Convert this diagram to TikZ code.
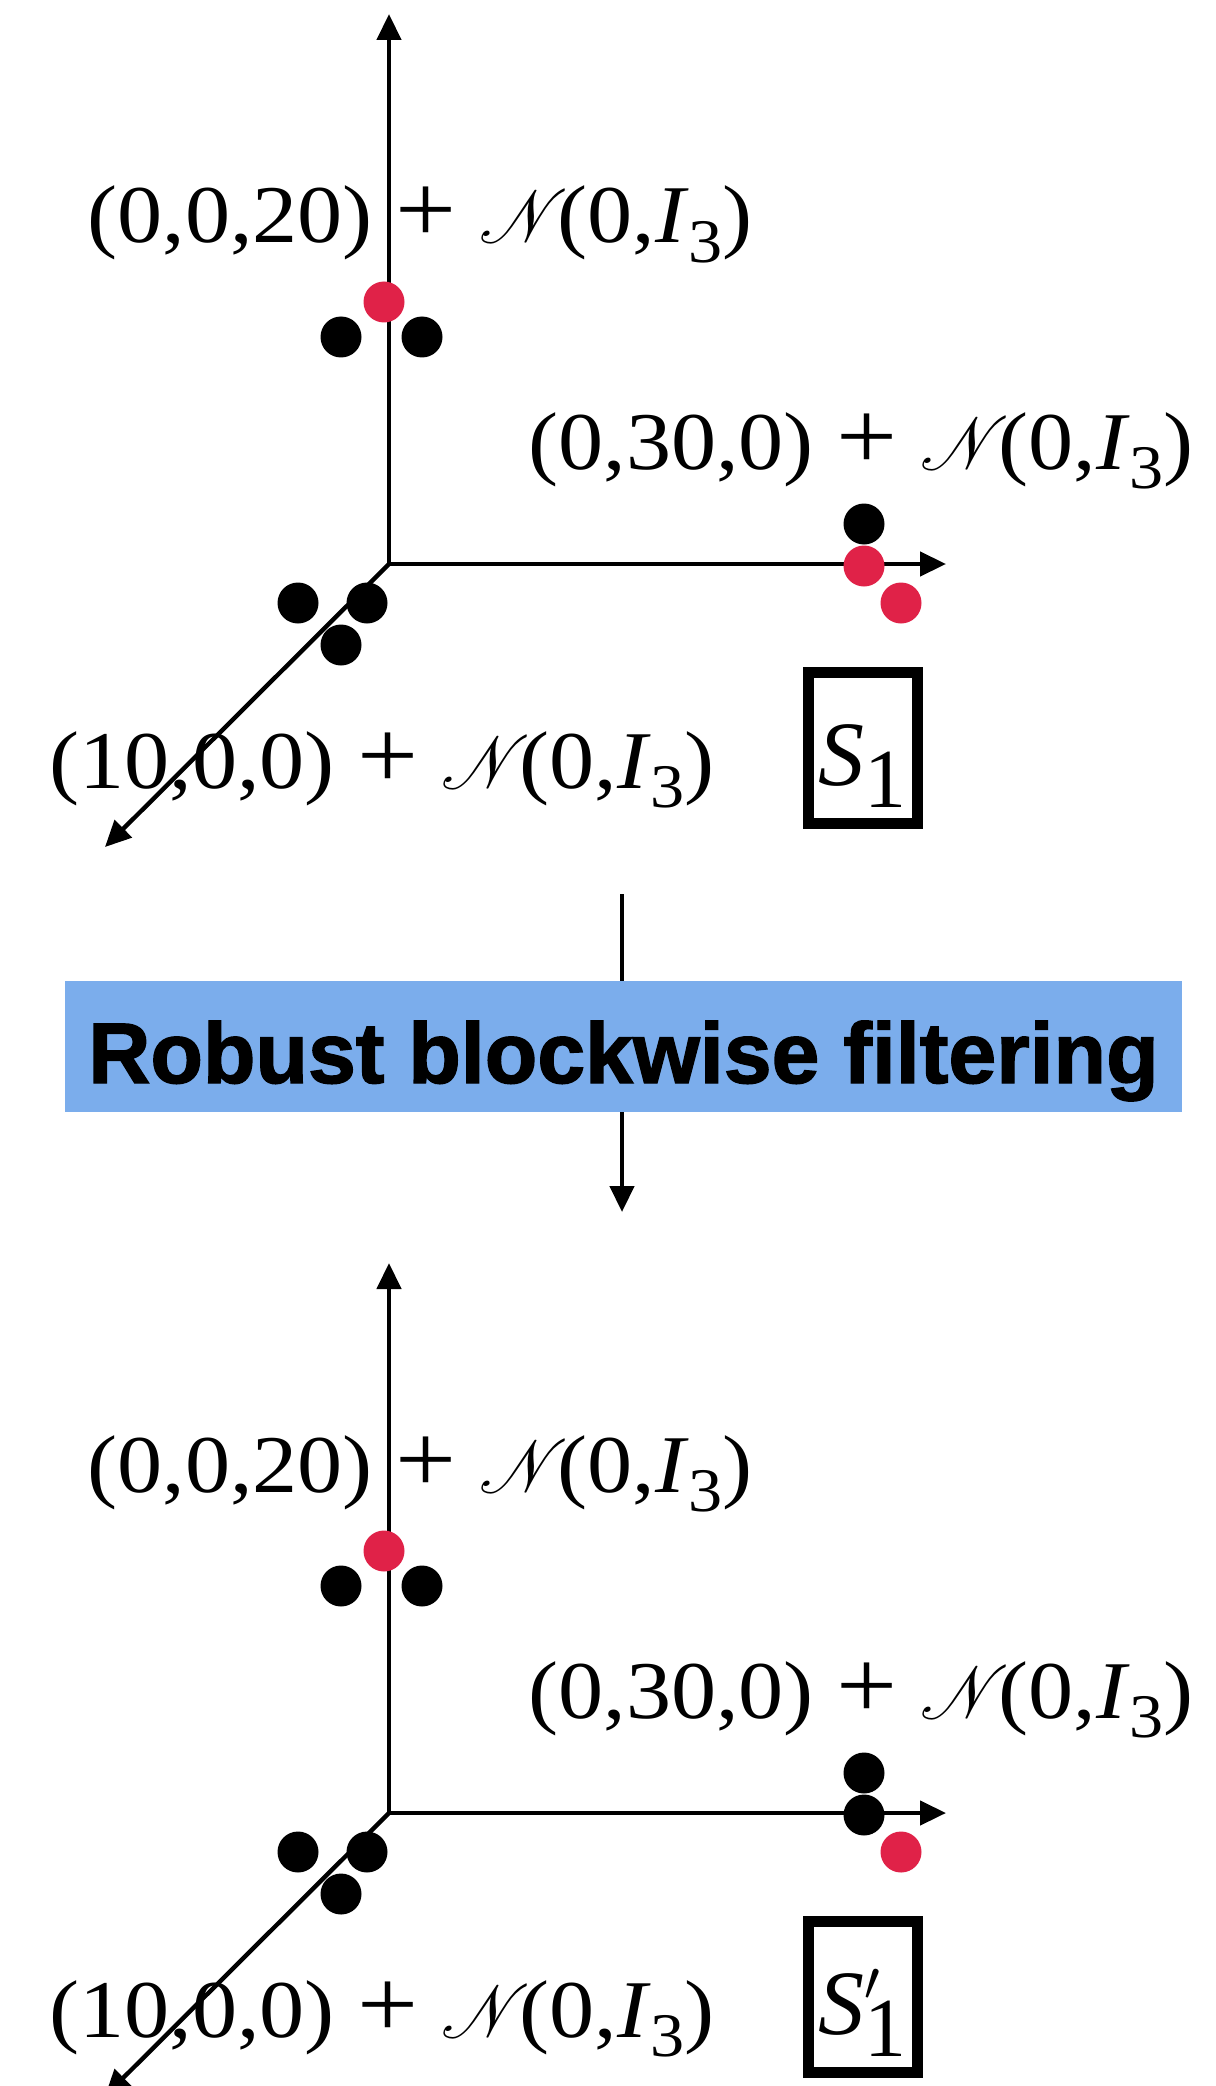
\RequirePackage{fix-cm}
\documentclass[tikz,border=0pt]{standalone}
\usepackage{mathrsfs}
\usepackage{fontspec}
\setmainfont{Liberation Serif}
\newfontfamily\filtfont[BoldFeatures={FakeBold=1.6}]{Liberation Sans}
\usetikzlibrary{arrows.meta}

\definecolor{outred}{RGB}{224,34,72}
\definecolor{filtblue}{RGB}{123,173,236}

% lowered index, as in the labels
\newcommand\lowidx[1]{\raisebox{-0.24em}{\fontsize{31}{31}\selectfont #1}}
\newcommand\gauss{\scalebox{1.3}[1.5]{$\mathscr{N}$}\hspace{-0.12em}(0,\textit{I}\lowidx{3})}
\newcommand\meanlab[1]{\scalebox{1.1}[1]{#1~\scalebox{1.2}{+}~\gauss}}
\newcommand\setidx[1]{\raisebox{-11pt}{\fontsize{42}{42}\selectfont #1}}

\tikzset{
  axis/.style={line width=2.2pt, -{Triangle[length=13pt,width=12pt]}},
  inpt/.style={circle, inner sep=0pt, minimum size=20.5pt, fill=black},
  outpt/.style={inpt, fill=outred},
  lab/.style={anchor=base west, inner sep=0pt, font=\fontsize{41}{48}\selectfont},
  setbox/.style={draw, line width=5.5pt, minimum width=54.5pt, minimum height=75.5pt,
    inner sep=0pt, text height=37pt, text depth=0pt, font=\fontsize{46}{50}\selectfont},
}

\begin{document}
\begin{tikzpicture}[x=0.5pt, y=-0.5pt]
  \clip (0,0) rectangle (1215,2086);

  % Before filtering
  \coordinate (o) at (389,564);
  \coordinate (ztip) at (389,14);
  \coordinate (ytip) at (946,564);
  \coordinate (xtip) at (105,847);
  \draw[axis] (o) -- (ztip);
  \draw[axis] (o) -- (ytip);
  \draw[axis] (o) -- (xtip);

  \node[lab] (zlab) at (87,243) {\meanlab{(0,0,20)}};
  \node[lab] (ylab) at (528,469) {\meanlab{(0,30,0)}};
  \node[lab] (xlab) at (49,788) {\meanlab{(10,0,0)}};

  \node[outpt] (z1) at (384,302) {};
  \node[inpt]  (z2) at (341,337) {};
  \node[inpt]  (z3) at (422,337) {};
  \node[inpt]  (y1) at (864,524) {};
  \node[outpt] (y2) at (864,566) {};
  \node[outpt] (y3) at (901,603) {};
  \node[inpt]  (x1) at (298,603) {};
  \node[inpt]  (x2) at (367,603) {};
  \node[inpt]  (x3) at (341,645) {};

  \node[setbox] (s) at (862.5,748) {\textit{S}\setidx{1}};

  % Filtering step
  \coordinate (arrtop) at (622,894);
  \coordinate (arrend) at (622,1212);
  \node[fill=filtblue, minimum width=558.5pt, minimum height=65.5pt, inner sep=0pt,
    text height=36.5pt, text depth=0pt, font=\filtfont\bfseries\fontsize{43}{48}\selectfont]
    (filt) at (623.5,1046.5) {Robust blockwise filtering};
  \draw[line width=2.2pt] (arrtop) -- (arrtop |- filt.north);
  \draw[axis] (arrtop |- filt.south) -- (arrend);

  % After filtering
  \begin{scope}[shift={(0,1249)}]
    \coordinate (ob) at (389,564);
    \coordinate (ztipb) at (389,14);
    \coordinate (ytipb) at (946,564);
    \coordinate (xtipb) at (105,847);
    \draw[axis] (ob) -- (ztipb);
    \draw[axis] (ob) -- (ytipb);
    \draw[axis] (ob) -- (xtipb);

    \node[lab] (zlabb) at (87,243) {\meanlab{(0,0,20)}};
    \node[lab] (ylabb) at (528,469) {\meanlab{(0,30,0)}};
    \node[lab] (xlabb) at (49,788) {\meanlab{(10,0,0)}};

    \node[outpt] (z1b) at (384,302) {};
    \node[inpt]  (z2b) at (341,337) {};
    \node[inpt]  (z3b) at (422,337) {};
    \node[inpt]  (y1b) at (864,524) {};
    \node[inpt]  (y2b) at (864,566) {};
    \node[outpt] (y3b) at (901,603) {};
    \node[inpt]  (x1b) at (298,603) {};
    \node[inpt]  (x2b) at (367,603) {};
    \node[inpt]  (x3b) at (341,645) {};

    \node[setbox] (sb) at (862.5,748)
      {\textit{S}\rlap{\raisebox{17pt}{\fontsize{28}{28}\selectfont$\prime$}}\setidx{1}};
  \end{scope}
\end{tikzpicture}
\end{document}
